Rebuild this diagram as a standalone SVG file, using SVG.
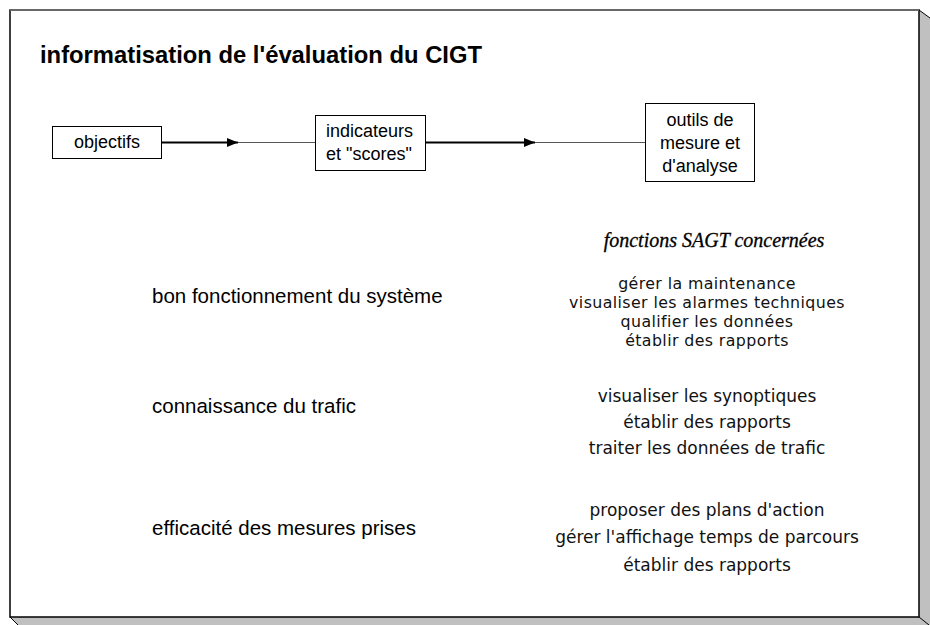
<svg xmlns="http://www.w3.org/2000/svg" width="930" height="625" viewBox="0 0 930 625">
<defs>
<style>
.box{fill:#fff;stroke:#000;stroke-width:1}
.lbl{font-family:"Liberation Sans",Arial,sans-serif;font-size:18px;fill:#000}
.big{font-family:"Liberation Sans",Arial,sans-serif;font-size:20.5px;fill:#000}
.fn{font-family:"DejaVu Sans",Verdana,sans-serif;font-size:17px;fill:#111;text-anchor:middle}
.fs{font-family:"DejaVu Sans",Verdana,sans-serif;font-size:15.8px;letter-spacing:0.4px;fill:#111;text-anchor:middle}
.thick{stroke:#000;stroke-width:2;fill:none}
.thin{stroke:#555;stroke-width:1;fill:none}
</style>
<marker id="ah" markerWidth="11" markerHeight="9" refX="11" refY="4.5" orient="auto" markerUnits="userSpaceOnUse">
<path d="M0,0 L11,4.5 L0,9 Z" fill="#000"/>
</marker>
</defs>
<rect width="930" height="625" fill="#fff"/>
<g id="frame">
<polygon points="919,10 930,18 930,625 18,625 10,617 919,617" fill="#c0c0c0" stroke="none"/>
<line x1="919" y1="10" x2="930" y2="18" stroke="#000" stroke-width="1"/>
<line x1="919" y1="617" x2="929" y2="625" stroke="#000" stroke-width="1"/>
<line x1="10" y1="617" x2="18" y2="625" stroke="#000" stroke-width="1"/>
<rect x="10" y="10" width="909" height="607" fill="#fff" stroke="#000" stroke-width="1.5"/>
<line x1="10" y1="10" x2="919" y2="10" stroke="#777" stroke-width="1.5"/>
</g>
<text id="title" x="40" y="63" font-family="'Liberation Sans',Arial,sans-serif" font-size="23.8" font-weight="bold">informatisation de l'évaluation du CIGT</text>
<g id="connectors">
<line class="thick" x1="162" y1="142.5" x2="238" y2="142.5" marker-end="url(#ah)"/>
<line class="thin" x1="238" y1="142.5" x2="315" y2="142.5"/>
<line class="thick" x1="426" y1="142.5" x2="535" y2="142.5" marker-end="url(#ah)"/>
<line class="thin" x1="535" y1="142.5" x2="645" y2="142.5"/>
</g>
<g id="objectifs">
<rect class="box" x="52.5" y="126.5" width="109" height="32"/>
<text class="lbl" x="107" y="148" text-anchor="middle">objectifs</text>
</g>
<g id="indicateurs">
<rect class="box" x="315.5" y="115.5" width="110" height="55"/>
<text class="lbl" x="326" y="137">indicateurs</text>
<text class="lbl" x="326" y="160">et "scores"</text>
</g>
<g id="outils">
<rect class="box" x="645.5" y="103.5" width="109" height="78"/>
<text class="lbl" x="700" y="126" text-anchor="middle">outils de</text>
<text class="lbl" x="700" y="149" text-anchor="middle">mesure et</text>
<text class="lbl" x="700" y="172" text-anchor="middle">d'analyse</text>
</g>
<text id="fonctions-title" x="714" y="247" text-anchor="middle" font-family="'Liberation Serif','Times New Roman',serif" font-style="italic" font-size="20" stroke="#000" stroke-width="0.3">fonctions SAGT concernées</text>
<g id="row1">
<text class="big" x="152" y="303">bon fonctionnement du système</text>
<text class="fs" x="707" y="289">gérer la maintenance</text>
<text class="fs" x="707" y="308">visualiser les alarmes techniques</text>
<text class="fs" x="707" y="327">qualifier les données</text>
<text class="fs" x="707" y="346">établir des rapports</text>
</g>
<g id="row2">
<text class="big" x="152" y="413">connaissance du trafic</text>
<text class="fn" x="707" y="402">visualiser les synoptiques</text>
<text class="fn" x="707" y="428">établir des rapports</text>
<text class="fn" x="707" y="454">traiter les données de trafic</text>
</g>
<g id="row3">
<text class="big" x="152" y="535">efficacité des mesures prises</text>
<text class="fn" x="707" y="516">proposer des plans d'action</text>
<text class="fn" x="707" y="543">gérer l'affichage temps de parcours</text>
<text class="fn" x="707" y="571">établir des rapports</text>
</g>
</svg>
